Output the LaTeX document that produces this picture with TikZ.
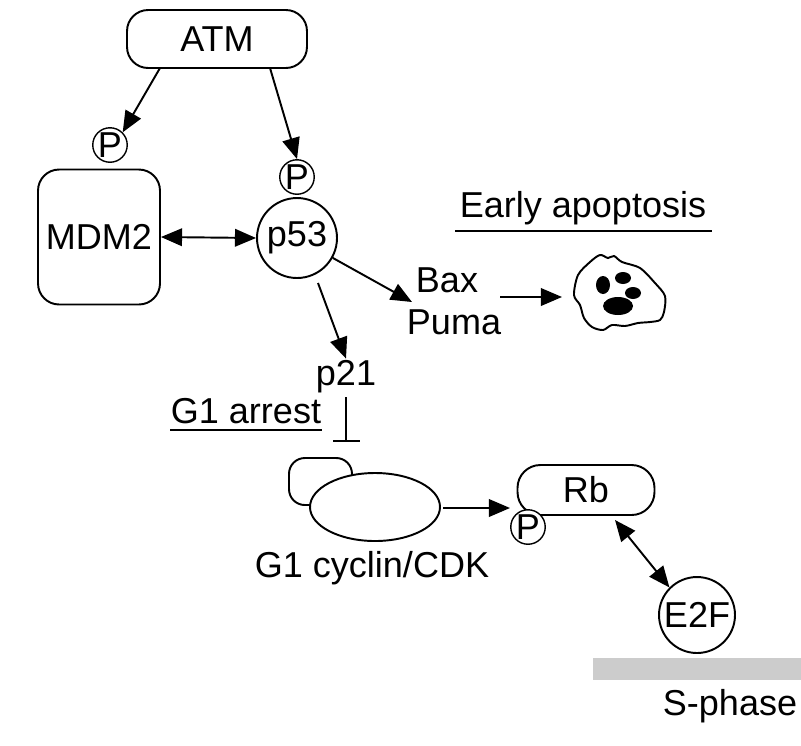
\documentclass[tikz,border=0pt]{standalone}
\usepackage{fontspec}
\setmainfont{Liberation Sans}
\usetikzlibrary{shapes,arrows.meta,positioning,calc}

\begin{document}
\begin{tikzpicture}[
    x=0.02cm, y=-0.02cm,
    every node/.style={font=\fontsize{20.5}{24}\selectfont},
    box/.style={rectangle, draw, rounded corners=12pt, line width=1.1pt, inner sep=0pt},
    prot/.style={circle, draw, line width=1.1pt, inner sep=0pt, minimum size=1.6cm},
    phos/.style={circle, draw, line width=0.8pt, inner sep=0pt, minimum size=0.62cm},
    act/.style={-{Triangle[length=12pt, width=10pt]}, line width=1.1pt},
    both/.style={{Triangle[length=12pt, width=10pt]}-{Triangle[length=12pt, width=10pt]}, line width=1.1pt},
    lbl/.style={inner sep=1pt}
]
\useasboundingbox (0,0) rectangle (801,745);

\node[box, minimum width=3.6cm, minimum height=1.16cm] (atm) at (217,39) {ATM};
\node[box, minimum width=2.44cm, minimum height=2.7cm] (mdm2) at (99,237) {MDM2};
\node[prot] (p53) at (297,238) {p53};
\node[phos] (pm) at (110,145) {P};
\node[phos] (pp) at (297,177) {P};

\draw[act] (160,68) coordinate (a1) -- (pm.north east);
\draw[act] (270,68) coordinate (a2) -- (pp.north);
\draw[both] (mdm2.east) -- (p53.west);

% apoptosis
\node[lbl] (early) at (583,208) {Early apoptosis};
\draw[line width=1.1pt] (455,231) -- (712,231);
\node[lbl] (bax) at (447,280) {Bax};
\node[lbl] (puma) at (454,322) {Puma};
\draw[act] (p53) -- (412,302) coordinate (bp);
\coordinate (cell) at (620,297);
\draw[act] (500,297) -- (562,297);
\draw[line width=1.1pt] plot[smooth cycle, tension=0.5] coordinates {
  (578,275) (590,262) (600,255) (608,258) (614,256) (622,262) (640,268)
  (655,283) (665,296) (664,312) (660,320) (650,322) (638,323) (625,326)
  (612,325) (603,330) (592,327) (584,318) (580,305) (574,295)};
\fill (603,285) ellipse (7 and 9);
\fill (623,278) ellipse (8 and 6);
\fill (633,293) ellipse (8 and 6);
\fill (618,306) ellipse (15 and 9);

% G1 arrest
\node[lbl] (p21) at (346,377) {p21};
\draw[act] (318,283) -- (p21.north);
\node[lbl] (g1a) at (246,411) {G1 arrest};
\draw[line width=1.1pt] (170,430) -- (322,430);
\draw[line width=1.1pt] (346,397) -- (346,441);
\draw[line width=1.1pt] (333,441) -- (360,441);

\draw[line width=1.1pt, rounded corners=9pt] (289,458) rectangle (352,505);
\draw[line width=1.1pt, fill=white] (375,507) ellipse (65 and 34);
\node[lbl] (cdk) at (372,568) {G1 cyclin/CDK};
\coordinate (ce) at (443,508);

\node[box, rounded corners=13pt, minimum width=2.74cm, minimum height=1cm] (rb) at (586,490) {Rb};
\node[phos, fill=white] (prb) at (528,527) {P};
\draw[act] (ce) -- (510,508);

\node[prot, minimum size=1.52cm] (e2f) at (697,615) {E2F};
\draw[both] (615,520) -- (e2f.north west);
\fill[black!20] (593,658) rectangle (801,680);
\node[lbl] (sph) at (730,706) {S-phase};
\end{tikzpicture}
\end{document}
